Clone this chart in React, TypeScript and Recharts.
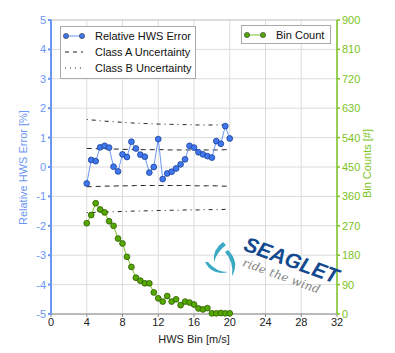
import { ComposedChart, Line, XAxis, YAxis, CartesianGrid, ReferenceLine } from "recharts";

const bins = [4, 4.5, 5, 5.5, 6, 6.5, 7, 7.5, 8, 8.5, 9, 9.5, 10, 10.5, 11, 11.5, 12, 12.5, 13, 13.5, 14, 14.5, 15, 15.5, 16, 16.5, 17, 17.5, 18, 18.5, 19, 19.5, 20];

const hwsError = [-0.56, 0.24, 0.2, 0.67, 0.72, 0.66, 0.01, -0.15, 0.43, 0.34, 0.86, 0.63, 0.42, 0.35, -0.19, 0.0, 0.95, -0.41, -0.22, -0.16, -0.05, 0.09, 0.26, 0.72, 0.66, 0.5, 0.43, 0.37, 0.32, 0.88, 0.79, 1.39, 0.97];

const classAUpper = [0.63, 0.63, 0.62, 0.62, 0.62, 0.61, 0.61, 0.61, 0.6, 0.6, 0.6, 0.6, 0.59, 0.59, 0.59, 0.59, 0.59, 0.59, 0.58, 0.58, 0.58, 0.58, 0.58, 0.58, 0.58, 0.58, 0.58, 0.58, 0.58, 0.58, 0.58, 0.59, 0.59];
const classALower = [-0.67, -0.67, -0.66, -0.66, -0.65, -0.65, -0.65, -0.64, -0.64, -0.64, -0.64, -0.63, -0.63, -0.63, -0.63, -0.63, -0.63, -0.63, -0.63, -0.63, -0.63, -0.63, -0.63, -0.63, -0.64, -0.64, -0.64, -0.64, -0.64, -0.64, -0.65, -0.65, -0.65];
const classBUpper = [1.62, 1.6, 1.59, 1.57, 1.56, 1.55, 1.54, 1.53, 1.52, 1.51, 1.5, 1.49, 1.49, 1.48, 1.47, 1.47, 1.46, 1.46, 1.45, 1.45, 1.45, 1.44, 1.44, 1.44, 1.43, 1.43, 1.43, 1.43, 1.43, 1.43, 1.43, 1.44, 1.44];
const classBLower = [-1.55, -1.55, -1.54, -1.54, -1.53, -1.53, -1.52, -1.52, -1.51, -1.51, -1.5, -1.5, -1.5, -1.49, -1.49, -1.49, -1.48, -1.48, -1.48, -1.47, -1.47, -1.47, -1.46, -1.46, -1.46, -1.46, -1.45, -1.45, -1.45, -1.45, -1.45, -1.44, -1.44];

const binCount = [278, 303, 339, 320, 311, 284, 270, 231, 216, 175, 144, 111, 102, 94, 94, 66, 48, 38, 55, 38, 45, 27, 38, 35, 29, 17, 14, 18, 2, 2, 3, 2, 2];

const xTicks = [0, 4, 8, 12, 16, 20, 24, 28, 32];
const leftTicks = [-5, -4, -3, -2, -1, 0, 1, 2, 3, 4, 5];
const rightTicks = [0, 90, 180, 270, 360, 450, 540, 630, 720, 810, 900];

const data = bins.map((b, i) => ({
  bin: b,
  err: hwsError[i],
  aUp: classAUpper[i],
  aLo: classALower[i],
  bUp: classBUpper[i],
  bLo: classBLower[i],
  count: binCount[i],
}));

const BLUE = "#6a96f5";
const BLUE_DOT = "#3f78ee";
const GREEN = "#7cc424";
const GREEN_DOT = "#55a800";
const FONT = "'Liberation Sans', Arial, sans-serif";

const blueDot = { r: 2.9, fill: BLUE_DOT, stroke: "#1c3f95", strokeWidth: 0.8 };
const greenDot = { r: 2.9, fill: GREEN_DOT, stroke: "#2c5a00", strokeWidth: 0.8 };

function Logo() {
  return (
    <svg width={395} height={353} style={{ position: "absolute", left: 0, top: 0, pointerEvents: "none" }}>
      <g fill="#3aa9c4" stroke="none">
        <path d="M223 242 Q212 250 214 262 Q217 252 226 245 Z" />
        <path d="M205 262 Q212 276 228 272 Q216 272 208 262 Z" />
        <path d="M228 250 Q240 262 232 276 Q234 262 225 252 Z" />
      </g>
      <g transform="rotate(20 289 267)">
        <text x={289} y={267} textAnchor="middle" fontFamily={FONT} fontWeight="bold" fontStyle="italic" fontSize={21} fill="#134a8e">
          SEAGLET
        </text>
        <text x={285} y={282} textAnchor="middle" fontFamily="'DejaVu Serif', serif" fontStyle="italic" fontSize={11.5} letterSpacing={0.3} fill="#808080">
          ride the wind
        </text>
      </g>
    </svg>
  );
}

function Legends() {
  const row = { display: "flex", alignItems: "center", height: 16 } as const;
  const box = {
    position: "absolute" as const,
    background: "#fff",
    border: "1px solid #aaa",
    fontFamily: FONT,
    fontSize: 11,
    color: "#111",
  };
  const mark = (dash: string | null, color: string, dot: string | null) => (
    <svg width={22} height={10} style={{ marginRight: 10, marginLeft: 2 }}>
      <line x1={2} y1={5} x2={20} y2={5} stroke={color} strokeWidth={1} strokeDasharray={dash ?? undefined} />
      {dot && <circle cx={3} cy={5} r={2.6} fill={dot} stroke="#333" strokeWidth={0.6} />}
      {dot && <circle cx={19} cy={5} r={2.6} fill={dot} stroke="#333" strokeWidth={0.6} />}
    </svg>
  );
  return (
    <>
      <div style={{ ...box, left: 60, top: 26, width: 134, height: 50, paddingTop: 1 }}>
        <div style={row}>{mark(null, BLUE, BLUE_DOT)}Relative HWS Error</div>
        <div style={row}>{mark("4 4", "#222", null)}Class A Uncertainty</div>
        <div style={row}>{mark("1 4", "#222", null)}Class B Uncertainty</div>
      </div>
      <div style={{ ...box, left: 241, top: 25, width: 88, height: 17 }}>
        <div style={{ ...row, marginTop: 1 }}>{mark(null, GREEN, GREEN_DOT)}Bin Count</div>
      </div>
    </>
  );
}

export default function App() {
  return (
    <div style={{ position: "absolute", left: 0, top: 0, width: 395, height: 353, background: "#fff" }}>
      <ComposedChart width={395} height={353} data={data} margin={{ top: 20, right: 18, bottom: 9, left: 11 }}>
        <CartesianGrid yAxisId="left" stroke="#dcdcdc" strokeWidth={1} />
        <XAxis
          dataKey="bin"
          type="number"
          domain={[0, 32]}
          ticks={xTicks}
          height={30}
          stroke="#888"
          tick={{ fill: "#222", fontSize: 11, fontFamily: FONT }}
          tickSize={3}
          tickMargin={1}
          label={{ value: "HWS Bin [m/s]", position: "insideBottom", offset: 1, fill: "#222", fontSize: 11, fontFamily: FONT }}
        />
        <YAxis
          yAxisId="left"
          domain={[-5, 5]}
          ticks={leftTicks}
          width={40}
          stroke={BLUE}
          strokeWidth={2}
          tickSize={3}
          tick={{ fill: BLUE, fontSize: 11, fontFamily: FONT }}
          label={{ value: "Relative HWS Error [%]", angle: -90, position: "insideLeft", offset: 12, dy: 58, fill: BLUE, fontSize: 11, fontFamily: FONT }}
        />
        <YAxis
          yAxisId="right"
          orientation="right"
          domain={[0, 900]}
          ticks={rightTicks}
          width={40}
          stroke={GREEN}
          strokeWidth={1.5}
          tickSize={3}
          tick={{ fill: GREEN, fontSize: 11, fontFamily: FONT }}
          label={{ value: "Bin Counts [#]", angle: -90, position: "insideRight", offset: 10, dy: -38, fill: GREEN, fontSize: 11, fontFamily: FONT }}
        />
        <ReferenceLine yAxisId="left" y={5} stroke="#cccccc" />
        <Line yAxisId="left" dataKey="aUp" stroke="#222" strokeWidth={1} strokeDasharray="5 4" dot={false} isAnimationActive={false} />
        <Line yAxisId="left" dataKey="aLo" stroke="#222" strokeWidth={1} strokeDasharray="5 4" dot={false} isAnimationActive={false} />
        <Line yAxisId="left" dataKey="bUp" stroke="#222" strokeWidth={1} strokeDasharray="1 4 4 4" dot={false} isAnimationActive={false} />
        <Line yAxisId="left" dataKey="bLo" stroke="#222" strokeWidth={1} strokeDasharray="1 4 4 4" dot={false} isAnimationActive={false} />
        <Line yAxisId="right" dataKey="count" stroke={GREEN} strokeWidth={1} dot={greenDot} isAnimationActive={false} />
        <Line yAxisId="left" dataKey="err" stroke={BLUE} strokeWidth={1} dot={blueDot} isAnimationActive={false} />
      </ComposedChart>
      <Logo />
      <Legends />
    </div>
  );
}
